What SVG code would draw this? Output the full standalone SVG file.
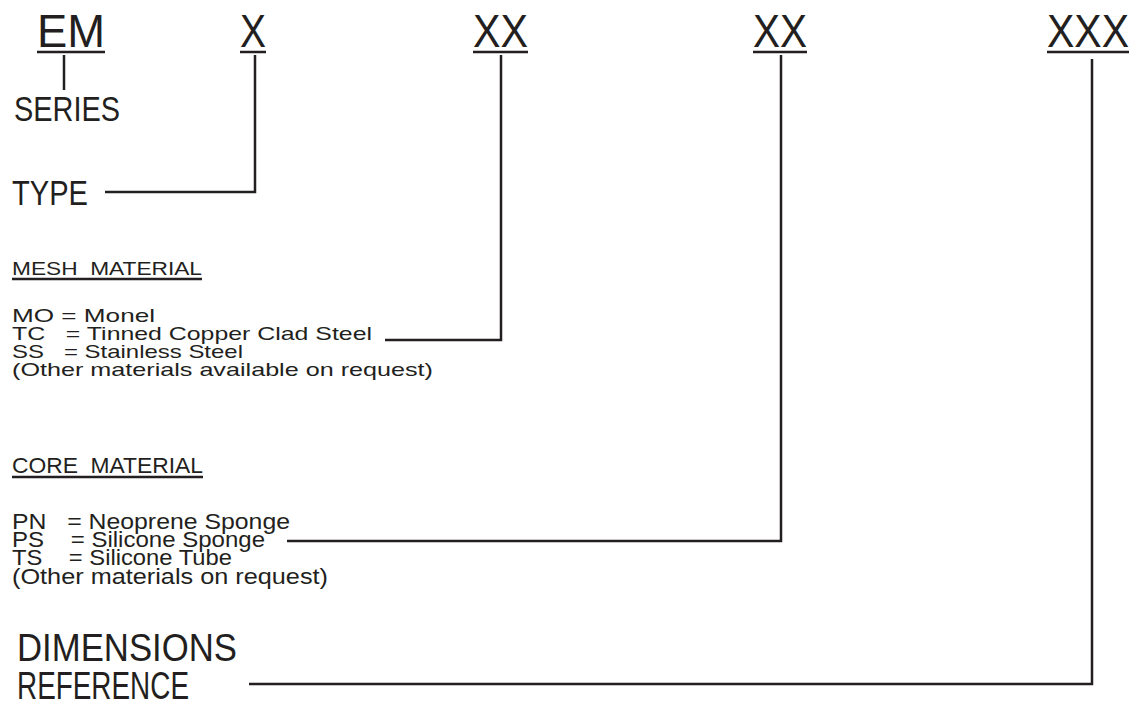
<svg xmlns="http://www.w3.org/2000/svg" width="1135" height="712" viewBox="0 0 1135 712">
<style>
text{font-family:"Liberation Sans","DejaVu Sans",sans-serif;fill:#231f20}
.code{font-size:47px}
.big{font-size:35px}
.sm{font-size:19px}
.cond{font-size:22px}
.dim{font-size:38px}
line{stroke:#231f20;stroke-width:2.5;fill:none}
.ul{stroke-width:2.5}
.conn{fill:none;stroke:#231f20;stroke-width:2.5}
</style>
<rect width="1135" height="712" fill="#fff"/>
<g id="code-em"><text class="code" x="37" y="47" textLength="68" lengthAdjust="spacingAndGlyphs">EM</text><line class="ul" x1="37" y1="52" x2="105" y2="52"/></g>
<g id="code-x"><text class="code" x="240" y="47" textLength="26" lengthAdjust="spacingAndGlyphs">X</text><line class="ul" x1="240" y1="52" x2="266" y2="52"/></g>
<g id="code-xx1"><text class="code" x="473" y="47" textLength="55" lengthAdjust="spacingAndGlyphs">XX</text><line class="ul" x1="473" y1="52" x2="528" y2="52"/></g>
<g id="code-xx2"><text class="code" x="753" y="47" textLength="54" lengthAdjust="spacingAndGlyphs">XX</text><line class="ul" x1="753" y1="52" x2="807" y2="52"/></g>
<g id="code-xxx"><text class="code" x="1047" y="47" textLength="82" lengthAdjust="spacingAndGlyphs">XXX</text><line class="ul" x1="1047" y1="52" x2="1129" y2="52"/></g>
<g id="series"><text class="big" x="14" y="121" textLength="106" lengthAdjust="spacingAndGlyphs">SERIES</text></g>
<g id="type"><text class="big" x="12" y="205" textLength="76" lengthAdjust="spacingAndGlyphs">TYPE</text></g>
<g id="mesh">
<text class="sm" x="12" y="275" textLength="190" lengthAdjust="spacingAndGlyphs" xml:space="preserve">MESH  MATERIAL</text>
<line x1="12" y1="279" x2="202" y2="279" stroke-width="1.8"/>
<text class="sm" x="12" y="322" textLength="143" lengthAdjust="spacingAndGlyphs">MO = Monel</text>
<text class="sm" x="12" y="340" textLength="360" lengthAdjust="spacingAndGlyphs" xml:space="preserve">TC   = Tinned Copper Clad Steel</text>
<text class="sm" x="12" y="358" textLength="231" lengthAdjust="spacingAndGlyphs" xml:space="preserve">SS   = Stainless Steel</text>
<text class="sm" x="12" y="376" textLength="421" lengthAdjust="spacingAndGlyphs">(Other materials available on request)</text>
</g>
<g id="core">
<text class="cond" x="12" y="473" textLength="191" lengthAdjust="spacingAndGlyphs" xml:space="preserve">CORE  MATERIAL</text>
<line x1="12" y1="477" x2="203" y2="477" stroke-width="1.8"/>
<text class="cond" x="12" y="529" textLength="278" lengthAdjust="spacingAndGlyphs" xml:space="preserve">PN   = Neoprene Sponge</text>
<text class="cond" x="12" y="547" textLength="253" lengthAdjust="spacingAndGlyphs" xml:space="preserve">PS    = Silicone Sponge</text>
<text class="cond" x="12" y="565" textLength="220" lengthAdjust="spacingAndGlyphs" xml:space="preserve">TS    = Silicone Tube</text>
<text class="cond" x="12" y="584" textLength="316" lengthAdjust="spacingAndGlyphs">(Other materials on request)</text>
</g>
<g id="dimensions">
<text class="dim" x="17" y="661" textLength="220" lengthAdjust="spacingAndGlyphs">DIMENSIONS</text>
<text class="dim" x="17" y="699" textLength="172" lengthAdjust="spacingAndGlyphs">REFERENCE</text>
</g>
<g id="connectors">
<line x1="64" y1="55" x2="64" y2="90"/>
<polyline class="conn" points="105,192 255,192 255,55"/>
<polyline class="conn" points="385,340 501,340 501,55"/>
<polyline class="conn" points="287,541 781,541 781,55"/>
<polyline class="conn" points="249,684 1092,684 1092,59"/>
</g>
</svg>
